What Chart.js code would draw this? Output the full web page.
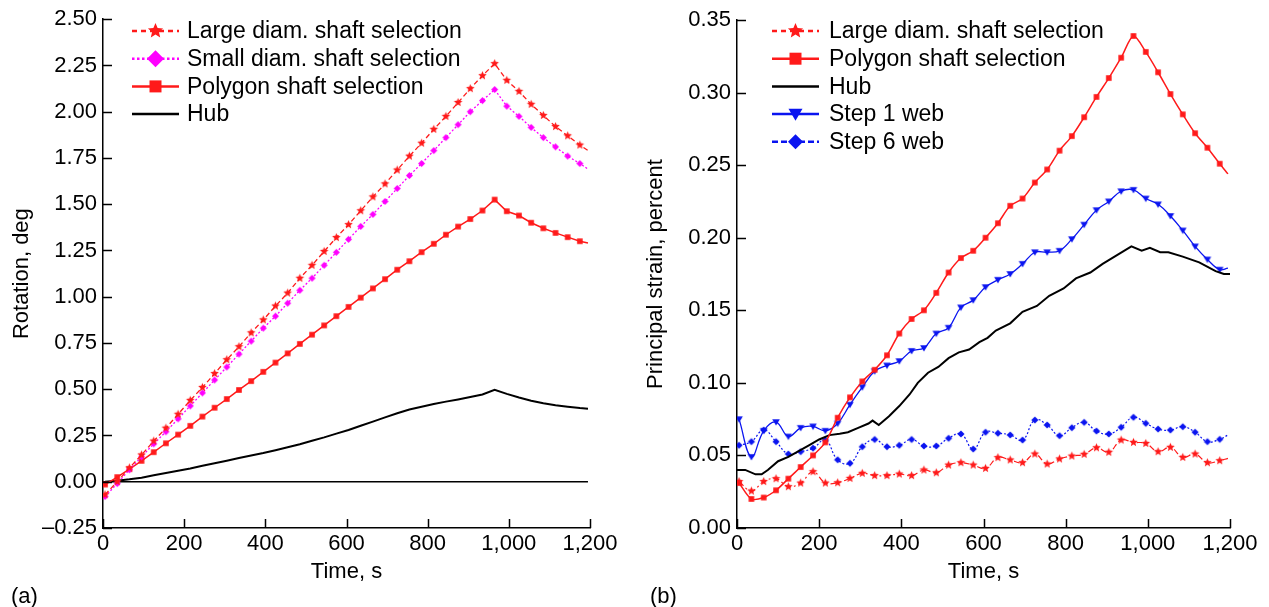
<!DOCTYPE html>
<html>
<head>
<meta charset="utf-8">
<script src="https://cdn.jsdelivr.net/npm/chart.js@4.4.1/dist/chart.umd.min.js"></script>
<style>
  html, body { margin: 0; padding: 0; background: #fff; }
  #wrap { position: relative; width: 1269px; height: 607px; }
  .panel { position: absolute; top: 0; height: 607px; }
  #panelA { left: 0; width: 634px; }
  #panelB { left: 634px; width: 635px; }
</style>
</head>
<body>
<div id="wrap">
  <div class="panel" id="panelA"><canvas id="rotationChart"></canvas></div>
  <div class="panel" id="panelB"><canvas id="strainChart"></canvas></div>
</div>
<script>
// sample times (s) for the marked series, one marker every 30 s
const seconds = [5, 35, 65, 95, 125, 155, 185, 215, 245, 275, 305, 335, 365, 395, 425, 455, 485, 515, 545, 575,
  605, 635, 665, 695, 725, 755, 785, 815, 845, 875, 905, 935, 965, 995, 1025, 1055, 1085, 1115, 1145, 1175, 1195];

// (a) rotation, deg
const largeRotation = [-0.07, 0.00, 0.075, 0.145, 0.22, 0.29, 0.365, 0.44, 0.51, 0.585, 0.66, 0.73, 0.805, 0.875,
  0.95, 1.02, 1.10, 1.17, 1.245, 1.32, 1.39, 1.465, 1.54, 1.61, 1.685, 1.76, 1.83, 1.905, 1.975, 2.05, 2.125, 2.195,
  2.26, 2.17, 2.11, 2.04, 1.98, 1.92, 1.87, 1.82, 1.79];
const smallRotation = [-0.08, -0.01, 0.065, 0.135, 0.205, 0.27, 0.34, 0.41, 0.48, 0.55, 0.62, 0.69, 0.76, 0.83,
  0.895, 0.965, 1.035, 1.10, 1.17, 1.24, 1.31, 1.38, 1.445, 1.515, 1.585, 1.655, 1.72, 1.79, 1.86, 1.93, 2.00, 2.06,
  2.12, 2.03, 1.975, 1.915, 1.86, 1.81, 1.76, 1.72, 1.69];
const polygonRotation = [-0.015, 0.025, 0.068, 0.113, 0.16, 0.208, 0.255, 0.302, 0.352, 0.40, 0.447, 0.496, 0.544,
  0.594, 0.644, 0.694, 0.745, 0.795, 0.845, 0.895, 0.945, 0.995, 1.045, 1.095, 1.146, 1.192, 1.241, 1.286, 1.335,
  1.379, 1.42, 1.466, 1.525, 1.462, 1.439, 1.40, 1.37, 1.345, 1.322, 1.30, 1.29];
const hubRotation = [0.0, 0.006, 0.013, 0.022, 0.035, 0.047, 0.06, 0.072, 0.086, 0.10, 0.114, 0.128, 0.142, 0.155,
  0.17, 0.186, 0.203, 0.222, 0.24, 0.26, 0.28, 0.303, 0.325, 0.348, 0.37, 0.39, 0.405, 0.42, 0.433, 0.445, 0.458,
  0.472, 0.497, 0.475, 0.455, 0.438, 0.424, 0.413, 0.405, 0.398, 0.395];

// (b) principal strain, percent
const largeStrain = [0.032, 0.0255, 0.032, 0.034, 0.0285, 0.031, 0.0388, 0.031, 0.0312, 0.0342, 0.0377, 0.0361,
  0.0361, 0.0372, 0.0361, 0.040, 0.0381, 0.0434, 0.045, 0.0434, 0.0411, 0.0485, 0.0469, 0.045, 0.051, 0.0441, 0.0476,
  0.0496, 0.0508, 0.0553, 0.0522, 0.0606, 0.059, 0.0583, 0.0526, 0.0556, 0.0487, 0.051, 0.045, 0.0464, 0.048];
const polygonStrain = [0.031, 0.020, 0.021, 0.026, 0.034, 0.042, 0.050, 0.059, 0.076, 0.090, 0.101, 0.109, 0.119,
  0.134, 0.144, 0.150, 0.162, 0.176, 0.186, 0.191, 0.200, 0.210, 0.222, 0.227, 0.238, 0.247, 0.260, 0.270, 0.283,
  0.297, 0.310, 0.324, 0.339, 0.328, 0.314, 0.299, 0.285, 0.272, 0.262, 0.251, 0.244];
const step1Strain = [0.075, 0.049, 0.067, 0.073, 0.063, 0.069, 0.070, 0.067, 0.072, 0.085, 0.097, 0.108, 0.112,
  0.115, 0.122, 0.124, 0.134, 0.138, 0.152, 0.157, 0.166, 0.171, 0.175, 0.182, 0.190, 0.190, 0.191, 0.199, 0.209,
  0.219, 0.225, 0.232, 0.233, 0.227, 0.223, 0.215, 0.205, 0.194, 0.185, 0.178, 0.179];
const step6Strain = [0.057, 0.0595, 0.0675, 0.0595, 0.051, 0.0526, 0.055, 0.0606, 0.047, 0.0446, 0.056, 0.061,
  0.056, 0.057, 0.061, 0.0565, 0.0565, 0.0618, 0.0648, 0.0544, 0.066, 0.0653, 0.0641, 0.0606, 0.0744, 0.071, 0.0636,
  0.0691, 0.0728, 0.0668, 0.0648, 0.0694, 0.0763, 0.0721, 0.0682, 0.0675, 0.0698, 0.066, 0.0595, 0.0611, 0.0641];
const hubSeconds = [0, 20, 45, 60, 75, 100, 125, 150, 175, 200, 225, 250, 270, 295, 320, 330, 345, 370, 395, 420,
  440, 465, 490, 515, 540, 565, 590, 610, 630, 665, 695, 730, 760, 795, 825, 860, 890, 925, 960, 985, 1005, 1030,
  1050, 1085, 1125, 1165, 1185, 1200];
const hubStrain = [0.040, 0.040, 0.037, 0.037, 0.040, 0.046, 0.049, 0.053, 0.057, 0.061, 0.064, 0.065, 0.066,
  0.069, 0.072, 0.074, 0.071, 0.077, 0.084, 0.092, 0.100, 0.107, 0.111, 0.117, 0.121, 0.123, 0.128, 0.131, 0.136,
  0.141, 0.149, 0.153, 0.160, 0.165, 0.172, 0.176, 0.182, 0.188, 0.194, 0.191, 0.193, 0.190, 0.190, 0.187, 0.183,
  0.177, 0.175, 0.175];

// axis ticks
const timeTicks = [0, 200, 400, 600, 800, 1000, 1200];
const rotationTicks = [-0.25, 0, 0.25, 0.5, 0.75, 1, 1.25, 1.5, 1.75, 2, 2.25, 2.5];
const strainTicks = [0, 0.05, 0.1, 0.15, 0.2, 0.25, 0.3, 0.35];

const RED = '#ff1a1a';
const MAGENTA = '#ff00ff';
const BLUE = '#0a14f0';
const FONT = '"Liberation Sans", Arial, Helvetica, sans-serif';

Chart.defaults.font.family = FONT;
Chart.defaults.font.size = 22;
Chart.defaults.color = '#000';

const pts = (xs, ys) => xs.map((x, i) => ({ x, y: ys[i] }));

// filled marker shapes, shared by plot points and legend
function tracePath(ctx, kind, x, y, r) {
  ctx.beginPath();
  if (kind === 'star') {
    for (let k = 0; k < 10; k++) {
      const a = -Math.PI / 2 + k * Math.PI / 5;
      const rr = k % 2 ? r * 0.45 : r;
      ctx.lineTo(x + rr * Math.cos(a), y + rr * Math.sin(a));
    }
  } else if (kind === 'diamond') {
    ctx.moveTo(x, y - r); ctx.lineTo(x + r, y); ctx.lineTo(x, y + r); ctx.lineTo(x - r, y);
  } else if (kind === 'square') {
    ctx.rect(x - r, y - r, 2 * r, 2 * r);
  } else if (kind === 'triDown') {
    ctx.moveTo(x - r, y - 0.75 * r); ctx.lineTo(x + r, y - 0.75 * r); ctx.lineTo(x, y + 0.95 * r);
  }
  ctx.closePath();
}

function drawMarker(ctx, kind, x, y, r, color) {
  ctx.fillStyle = color;
  tracePath(ctx, kind, x, y, r);
  ctx.fill();
}

function markerImage(kind, r, color) {
  const c = document.createElement('canvas');
  const s = Math.ceil(r * 2 + 2);
  c.width = c.height = s;
  drawMarker(c.getContext('2d'), kind, s / 2, s / 2, r, color);
  return c;
}

// no marker on the final sample
const markerRadius = ctx => (ctx.dataIndex === seconds.length - 1 ? 0 : 4);

// ticks pointing into the plot
const inwardTicks = {
  id: 'inwardTicks',
  afterDraw(chart) {
    const { ctx, chartArea } = chart;
    const { x, y } = chart.scales;
    ctx.save();
    ctx.strokeStyle = '#000';
    ctx.lineWidth = 1.5;
    ctx.beginPath();
    x.ticks.forEach(t => {
      const px = Math.round(x.getPixelForValue(t.value)) + 0.5;
      ctx.moveTo(px, chartArea.bottom);
      ctx.lineTo(px, chartArea.bottom - 9);
    });
    y.ticks.forEach(t => {
      const py = Math.round(y.getPixelForValue(t.value)) + 0.5;
      ctx.moveTo(chartArea.left, py);
      ctx.lineTo(chartArea.left + 9, py);
    });
    ctx.stroke();
    ctx.restore();
  }
};

// horizontal reference line at zero rotation
const zeroLine = {
  id: 'zeroLine',
  beforeDatasetsDraw(chart) {
    const { ctx } = chart;
    const { x, y } = chart.scales;
    const py = y.getPixelForValue(0);
    ctx.save();
    ctx.strokeStyle = '#000';
    ctx.lineWidth = 1.5;
    ctx.beginPath();
    ctx.moveTo(x.getPixelForValue(0), py);
    ctx.lineTo(x.getPixelForValue(seconds[seconds.length - 1]), py);
    ctx.stroke();
    ctx.restore();
  }
};

// legend with line sample and centred marker
const markerLegend = {
  id: 'markerLegend',
  afterDraw(chart, args, opts) {
    const { ctx } = chart;
    ctx.save();
    chart.data.datasets.forEach((ds, i) => {
      const y = opts.top + i * opts.rowGap;
      ctx.strokeStyle = ds.borderColor;
      ctx.lineWidth = 2.5;
      ctx.setLineDash(ds.legendDash || []);
      ctx.beginPath();
      ctx.moveTo(opts.left, y);
      ctx.lineTo(opts.left + opts.lineLen, y);
      ctx.stroke();
      ctx.setLineDash([]);
      if (ds.marker) drawMarker(ctx, ds.marker, opts.left + opts.lineLen / 2, y, ds.legendSize, ds.borderColor);
      ctx.fillStyle = '#000';
      ctx.font = '23px ' + FONT;
      ctx.textBaseline = 'middle';
      ctx.textAlign = 'left';
      ctx.fillText(ds.label, opts.left + opts.lineLen + opts.gap, y + 1);
    });
    ctx.restore();
  }
};

// "(a)" / "(b)" captions
const panelLabel = {
  id: 'panelLabel',
  afterDraw(chart, args, opts) {
    const { ctx } = chart;
    ctx.save();
    ctx.fillStyle = '#000';
    ctx.font = '22px ' + FONT;
    ctx.textBaseline = 'middle';
    ctx.fillText(opts.text, opts.x, opts.y);
    ctx.restore();
  }
};

const fmt2 = v => (v < 0 ? '\u2013' : '') + Math.abs(v).toFixed(2);

function timeAxis() {
  return {
    type: 'linear',
    min: 0,
    max: 1200,
    afterBuildTicks: s => { s.ticks = timeTicks.map(v => ({ value: v })); },
    ticks: { callback: v => v.toLocaleString('en-US'), padding: 3, maxRotation: 0, autoSkip: false },
    grid: { display: false, drawTicks: false },
    border: { display: true, color: '#000', width: 1.5 },
    title: { display: true, text: 'Time, s', padding: { top: 0, bottom: 22 } },
    afterFit: s => { s.height = 79; }
  };
}

function valueAxis(min, max, tickList, text) {
  return {
    min,
    max,
    afterBuildTicks: s => { s.ticks = tickList.map(v => ({ value: v })); },
    ticks: { callback: fmt2, padding: 6, autoSkip: false },
    grid: { display: false, drawTicks: false },
    border: { display: true, color: '#000', width: 1.5 },
    title: { display: true, text, padding: { top: 9, bottom: 0 } },
    afterFit: s => { s.width = 103; }
  };
}

new Chart(document.getElementById('rotationChart'), {
  type: 'line',
  data: {
    datasets: [{
      label: 'Large diam. shaft selection',
      data: pts(seconds, largeRotation),
      borderColor: RED, borderWidth: 1.3, borderDash: [5, 3],
      pointStyle: markerImage('star', 4.5, RED), pointRadius: markerRadius,
      marker: 'star', legendSize: 8, legendDash: [5, 4]
    }, {
      label: 'Small diam. shaft selection',
      data: pts(seconds, smallRotation),
      borderColor: MAGENTA, borderWidth: 1.3, borderDash: [2, 2],
      pointStyle: markerImage('diamond', 3.5, MAGENTA), pointRadius: markerRadius,
      marker: 'diamond', legendSize: 8.5, legendDash: [2.5, 2.5]
    }, {
      label: 'Polygon shaft selection',
      data: pts(seconds, polygonRotation),
      borderColor: RED, borderWidth: 1.5,
      pointStyle: markerImage('square', 2.8, RED), pointRadius: markerRadius,
      marker: 'square', legendSize: 6
    }, {
      label: 'Hub',
      data: pts(seconds, hubRotation),
      borderColor: '#000', borderWidth: 2, pointRadius: 0
    }]
  },
  options: {
    responsive: true,
    maintainAspectRatio: false,
    animation: false,
    events: [],
    layout: { padding: { top: 18, right: 44, left: 0, bottom: 0 } },
    scales: {
      x: timeAxis(),
      y: valueAxis(-0.25, 2.5, rotationTicks, 'Rotation, deg')
    },
    plugins: {
      legend: { display: false },
      tooltip: { enabled: false },
      markerLegend: { left: 132, top: 31, rowGap: 27.7, lineLen: 47, gap: 8 },
      panelLabel: { text: '(a)', x: 11, y: 597 }
    }
  },
  plugins: [zeroLine, inwardTicks, markerLegend, panelLabel]
});

new Chart(document.getElementById('strainChart'), {
  type: 'line',
  data: {
    datasets: [{
      label: 'Large diam. shaft selection',
      data: pts(seconds, largeStrain),
      borderColor: RED, borderWidth: 1.2, borderDash: [6, 3, 2, 3], tension: 0.4,
      pointStyle: markerImage('star', 4.5, RED), pointRadius: markerRadius,
      marker: 'star', legendSize: 8, legendDash: [5, 4]
    }, {
      label: 'Polygon shaft selection',
      data: pts(seconds, polygonStrain),
      borderColor: RED, borderWidth: 1.5, tension: 0.3,
      pointStyle: markerImage('square', 2.8, RED), pointRadius: markerRadius,
      marker: 'square', legendSize: 6
    }, {
      label: 'Hub',
      data: pts(hubSeconds, hubStrain),
      borderColor: '#000', borderWidth: 2, pointRadius: 0
    }, {
      label: 'Step 1 web',
      data: pts(seconds, step1Strain),
      borderColor: BLUE, borderWidth: 1.3, tension: 0.4,
      pointStyle: markerImage('triDown', 3.8, BLUE), pointRadius: markerRadius,
      marker: 'triDown', legendSize: 7
    }, {
      label: 'Step 6 web',
      data: pts(seconds, step6Strain),
      borderColor: BLUE, borderWidth: 1.2, borderDash: [2, 2], tension: 0.45,
      pointStyle: markerImage('diamond', 3.6, BLUE), pointRadius: markerRadius,
      marker: 'diamond', legendSize: 7.5, legendDash: [6, 3]
    }]
  },
  options: {
    responsive: true,
    maintainAspectRatio: false,
    animation: false,
    events: [],
    layout: { padding: { top: 20, right: 39, left: 0, bottom: 0 } },
    scales: {
      x: timeAxis(),
      y: valueAxis(0, 0.35, strainTicks, 'Principal strain, percent')
    },
    plugins: {
      legend: { display: false },
      tooltip: { enabled: false },
      markerLegend: { left: 138, top: 31, rowGap: 27.7, lineLen: 47, gap: 10 },
      panelLabel: { text: '(b)', x: 16, y: 597 }
    }
  },
  plugins: [inwardTicks, markerLegend, panelLabel]
});
</script>
</body>
</html>
